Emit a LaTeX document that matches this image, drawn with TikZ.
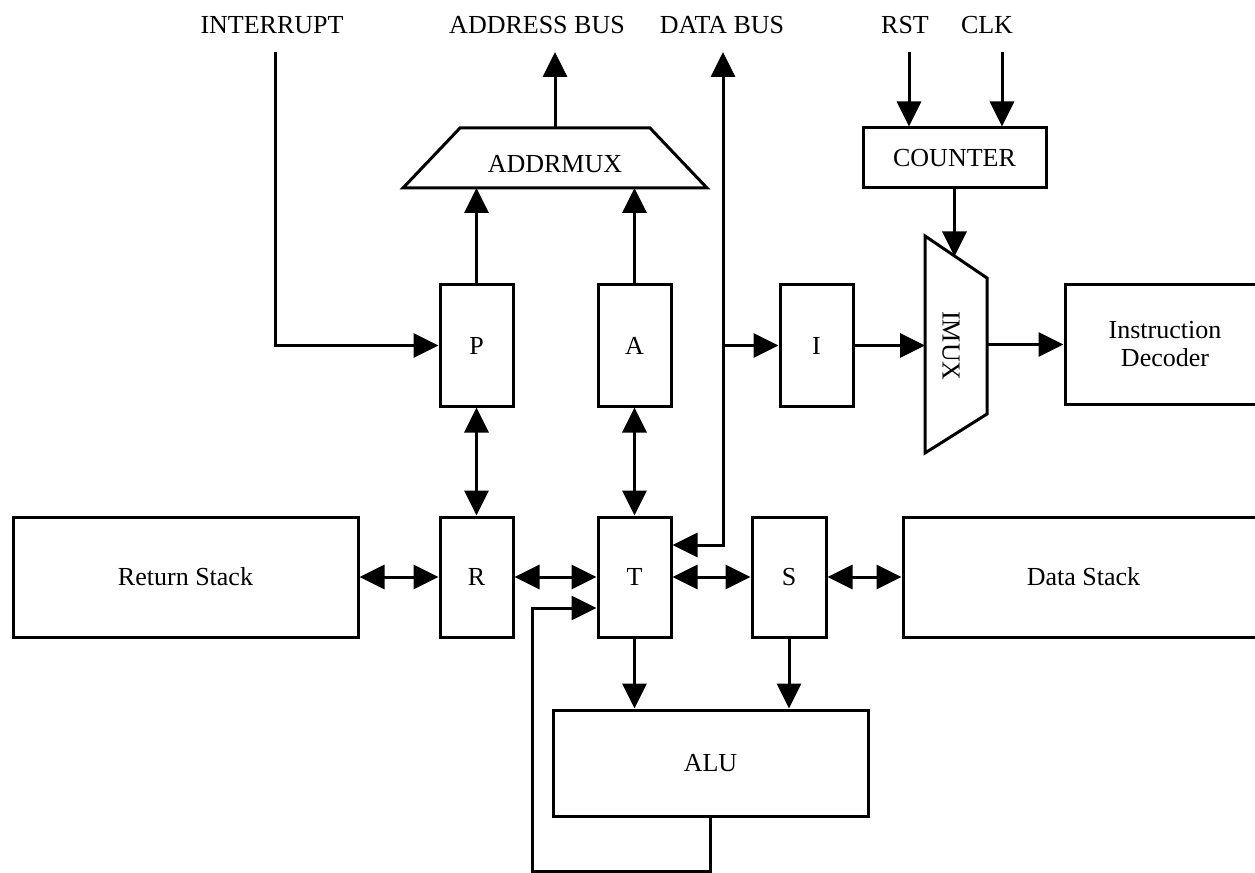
\documentclass[tikz,border=0pt]{standalone}
\usepackage{fontspec}
\setmainfont{Liberation Serif}
\usetikzlibrary{arrows.meta,calc}
\begin{document}
\begin{tikzpicture}[x=0.75pt,y=-0.75pt,
  line width=2.25pt,
  >={Triangle[length=18.75pt,width=18pt]},
  font=\fontsize{19.5}{21}\selectfont,
  box/.style={draw,rectangle,inner sep=0pt},
  reg/.style={box,minimum width=54.75pt,minimum height=90.75pt},
  ghost/.style={rectangle,inner sep=0pt,outer sep=0pt}]
\useasboundingbox (0,0) rectangle (1255,873);

% labels
\node (intlbl) at (272,25) {INTERRUPT};
\node (ablbl) at (537,25) {ADDRESS BUS};
\node (dblbl) at (722,25) {DATA BUS};
\node (rstlbl) at (905,25) {RST};
\node (clklbl) at (987,25) {CLK};

% registers
\node[reg] (P) at (476.5,345.5) {P};
\node[reg] (A) at (634.5,345.5) {A};
\node[reg] (I) at (816.5,345.5) {I};
\node[reg,minimum height=90pt] (R) at (476.5,577) {R};
\node[reg,minimum height=90pt] (T) at (634.5,577) {T};
\node[reg,minimum height=90pt,minimum width=55.5pt] (S) at (789,577) {S};

% large blocks
\node[box,minimum width=258.75pt,minimum height=90pt] (rs) at (185.5,577) {Return Stack};
\node[box,minimum width=270.75pt,minimum height=90pt] (ds) at (1083.5,577) {Data Stack};
\node[box,minimum width=150pt,minimum height=89.25pt,align=center] (dec) at (1165,344.5) {Instruction\\Decoder};
\node[box,minimum width=137.25pt,minimum height=45pt] (counter) at (954.5,158) {COUNTER};
\node[box,minimum width=236.25pt,minimum height=79.5pt] (alu) at (710.5,763) {ALU};

% ADDRMUX trapezoid
\node[ghost,minimum width=228pt,minimum height=45pt] (addrmux) at (555,158) {};
\draw (addrmux.south west) -- ($(addrmux.north west)+(57,0)$) -- ($(addrmux.north east)+(-57,0)$) -- (addrmux.south east) -- cycle;
\node (addrmuxtext) at (555,164) {ADDRMUX};

% IMUX trapezoid
\node[ghost,minimum width=46.5pt,minimum height=162.75pt] (imux) at (956,344.5) {};
\draw (imux.north west) -- ($(imux.north east)+(0,42)$) -- ($(imux.south east)+(0,-39)$) -- (imux.south west) -- cycle;
\node[rotate=-90] (imuxtext) at (951,346) {IMUX};

% coordinates
\coordinate (intsrc) at (275,52);
\coordinate (absink) at (555,52);
\coordinate (dbtop) at (723,52);
\coordinate (dbturn) at (723,545);
\coordinate (rstsrc) at (909,52);
\coordinate (clksrc) at (1002,52);
\coordinate (imuxtop) at (954.5,256.5);
\coordinate (fb) at (532,871);

% connectors
\draw[->] (intsrc) |- (P.west);
\draw[->] (P.north) -- (P.north |- addrmux.south);
\draw[->] (A.north) -- (A.north |- addrmux.south);
\draw[->] (addrmux.north) -- (absink);
\draw[<->] (dbtop) -- (dbturn) -- (dbturn -| T.east);
\draw[->] (dbtop |- I.west) -- (I.west);
\draw[->] (rstsrc) -- (rstsrc |- counter.north);
\draw[->] (clksrc) -- (clksrc |- counter.north);
\draw[->] (counter.south) -- (imuxtop);
\draw[->] (I.east) -- (I.east -| imux.west);
\draw[->] (imux.east) -- (dec.west);
\draw[<->] (P.south) -- (R.north);
\draw[<->] (A.south) -- (T.north);
\draw[<->] (rs.east) -- (R.west);
\draw[<->] (R.east) -- (T.west);
\draw[<->] (T.east) -- (S.west);
\draw[<->] (S.east) -- (ds.west);
\draw[->] (T.south) -- (T.south |- alu.north);
\draw[->] (S.south) -- (S.south |- alu.north);
\draw[->] (alu.south) |- (fb) |- ($(T.west)+(0,31)$);
\end{tikzpicture}
\end{document}
